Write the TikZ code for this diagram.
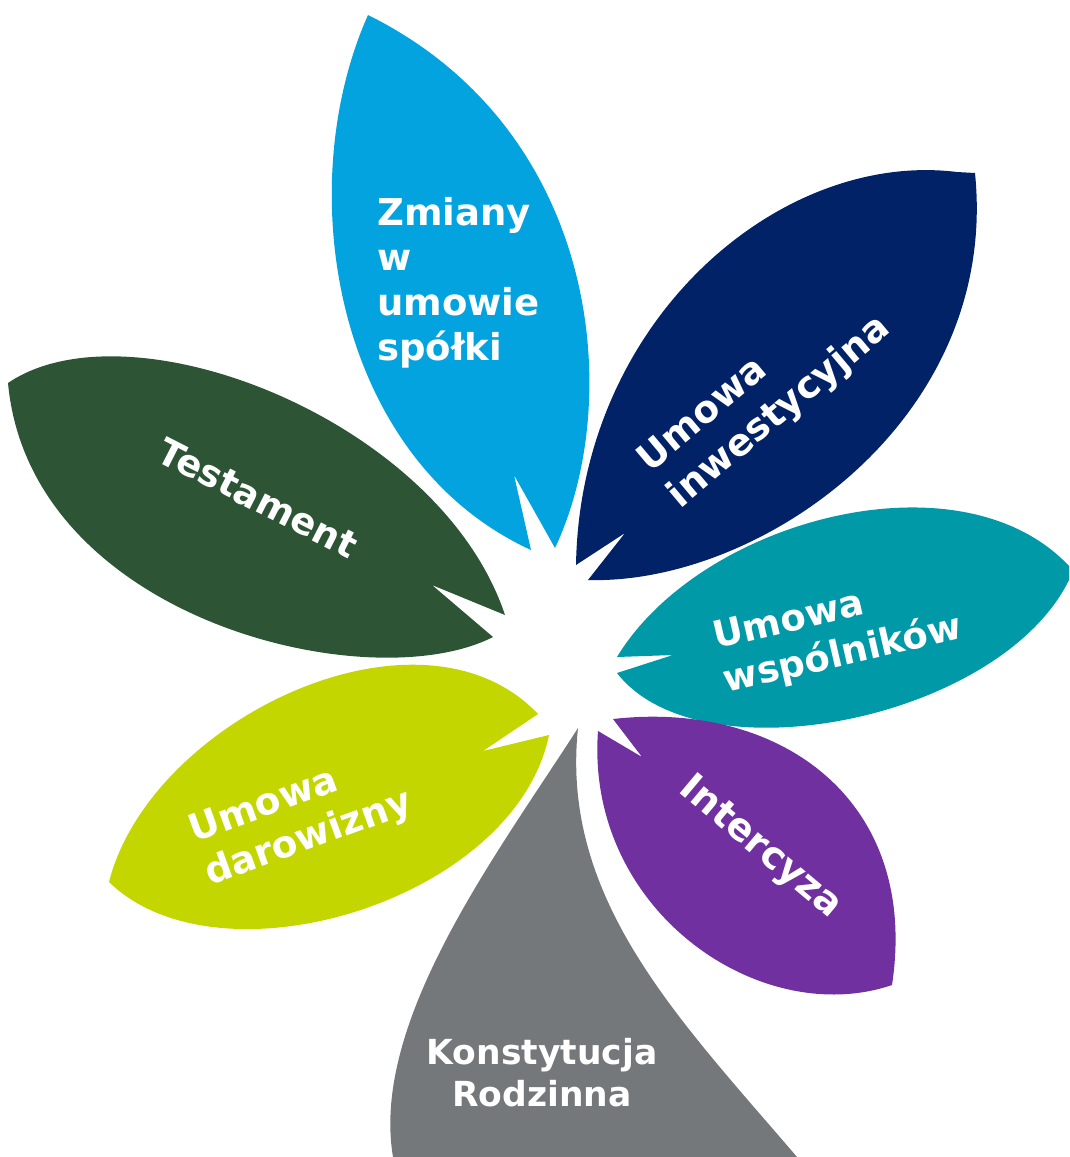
\documentclass[tikz,border=0pt]{standalone}
\usepackage{fontspec}
\setmainfont{DejaVu Sans}
\definecolor{cblue}{RGB}{3,163,224}
\definecolor{cnavy}{RGB}{2,34,104}
\definecolor{cgreen}{RGB}{45,84,52}
\definecolor{cteal}{RGB}{0,153,168}
\definecolor{cpurple}{RGB}{112,48,160}
\definecolor{clime}{RGB}{196,214,0}
\definecolor{cgray}{RGB}{117,120,123}
\begin{document}
\begin{tikzpicture}[x=1pt,y=-1pt,
  lbl/.style={text=white, font=\bfseries\fontsize{37}{45}\selectfont, inner sep=0pt}]
\useasboundingbox (0,0) rectangle (1069,1157);
% blue leaf
\fill[cblue] (531,550) -- (514,475) -- (555,548)
  .. controls (625,400) and (600,130) .. (368,15)
  .. controls (290,190) and (335,460) .. cycle;
% navy leaf
\fill[cnavy] (576,565) -- (625,533) -- (588,580)
  .. controls (760,585) and (1000,420) .. (975,173)
  -- (957,172)
  .. controls (780,150) and (580,320) .. cycle;
% dark green leaf
\fill[cgreen] (8,383) .. controls (130,300) and (440,420) .. (505,615)
  -- (432,585) -- (493,637)
  .. controls (370,700) and (30,620) .. cycle;
% teal leaf
\fill[cteal] (617,657) .. controls (700,520) and (960,450) .. (1069,566)
  -- (1069,580)
  .. controls (1000,720) and (700,780) .. (617,673)
  -- (673,655) -- cycle;
% lime leaf
\fill[clime] (109,882) .. controls (150,720) and (420,590) .. (538,714)
  -- (483,751) -- (549,735)
  .. controls (515,900) and (220,990) .. cycle;
% gray leaf
\fill[cgray] (578,728) .. controls (500,850) and (370,1020) .. (393,1157)
  -- (797,1157)
  .. controls (680,1020) and (560,900) .. cycle;
% purple leaf
\fill[cpurple] (598,731) -- (642,757) -- (613,719)
  .. controls (780,700) and (920,800) .. (892,985)
  .. controls (760,1030) and (585,910) .. cycle;
% labels
\node[lbl, align=left, anchor=west] (t1) at (377,283) {Zmiany\\w\\umowie\\spółki};
\node[lbl, align=left, rotate=40, font=\bfseries\fontsize{37.5}{47}\selectfont] (t2) at (765,395) {Umowa\\inwestycyjna};
\node[lbl, rotate=-27] (t3) at (258,498) {Testament};
\node[lbl, align=left, rotate=13] (t4) at (838,634) {Umowa\\wspólników};
\node[lbl, align=left, rotate=20, font=\bfseries\fontsize{37.5}{46}\selectfont] (t5) at (301,818) {Umowa\\darowizny};
\node[lbl, rotate=-40, font=\bfseries\fontsize{38}{46}\selectfont] (t6) at (760,848) {Intercyza};
\node[lbl, align=center, font=\bfseries\fontsize{34.5}{42}\selectfont] (t7) at (542,1073) {Konstytucja\\Rodzinna};
\end{tikzpicture}
\end{document}
